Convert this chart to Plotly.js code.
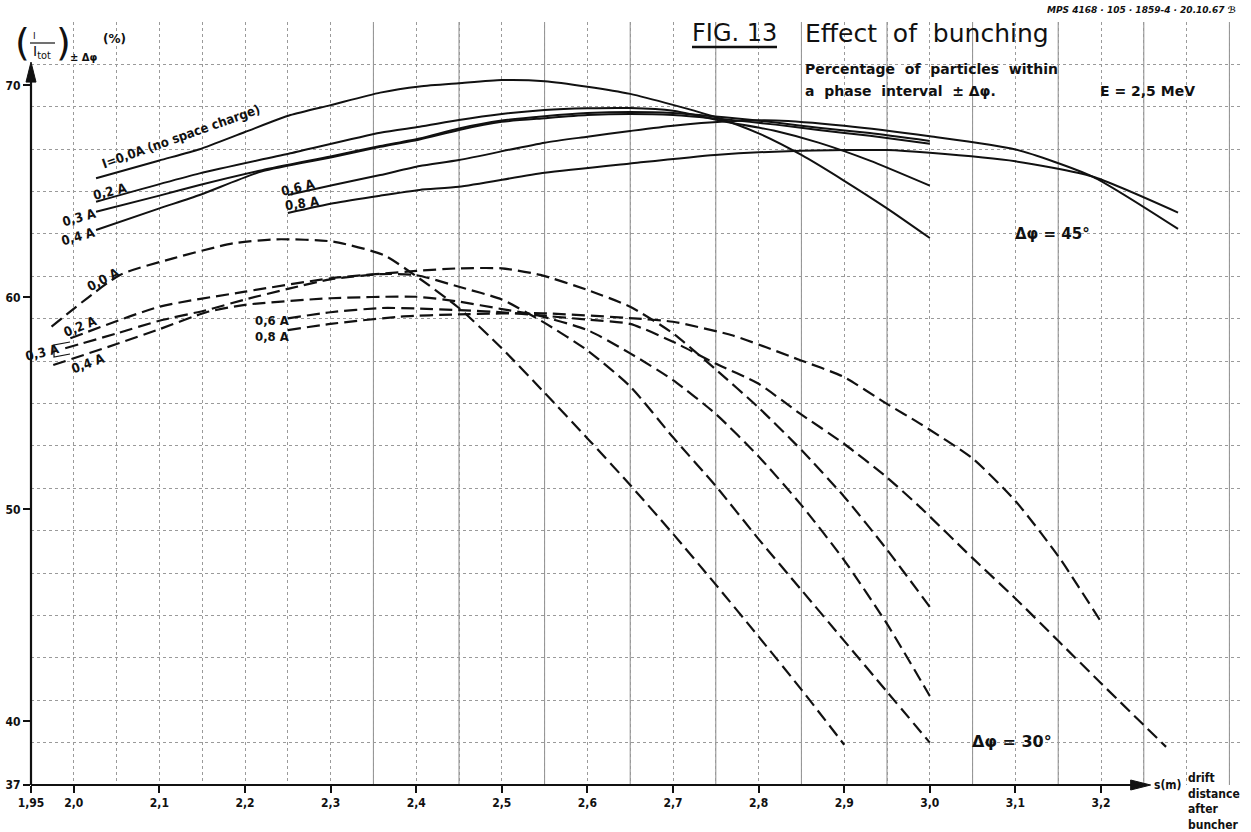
<!DOCTYPE html>
<html>
<head>
<meta charset="utf-8">
<script src="https://cdn.plot.ly/plotly-3.0.1.min.js"></script>
<style>
html,body{margin:0;padding:0;background:#fff;}
#chart{width:1251px;height:832px;}
</style>
</head>
<body>
<div id="chart"></div>
<script>
// ---------- tick labels ----------
const xTickVals = [1.95, 2.0, 2.1, 2.2, 2.3, 2.4, 2.5, 2.6, 2.7, 2.8, 2.9, 3.0, 3.1, 3.2];
const xTickText = ['1,95', '2,0', '2,1', '2,2', '2,3', '2,4', '2,5', '2,6', '2,7', '2,8', '2,9', '3,0', '3,1', '3,2'];
const yTickVals = [37, 40, 50, 60, 70];
const yTickText = ['37', '40', '50', '60', '70'];

// ---------- Δφ = 45° (solid) ----------
const s00X = [2.026, 2.10, 2.147, 2.20, 2.253, 2.30, 2.358, 2.404, 2.45, 2.50, 2.55, 2.60, 2.65, 2.70, 2.75, 2.80, 2.85, 2.90, 2.95, 3.00];
const s00Y = [65.62, 66.46, 66.99, 67.8, 68.6, 69.07, 69.66, 69.95, 70.1, 70.25, 70.2, 69.94, 69.6, 69.08, 68.5, 67.74, 66.72, 65.5, 64.2, 62.8];

const s02X = [2.026, 2.147, 2.253, 2.358, 2.404, 2.45, 2.50, 2.55, 2.60, 2.65, 2.70, 2.76, 2.82, 2.87, 2.93, 3.00];
const s02Y = [64.51, 65.85, 66.8, 67.77, 68.05, 68.37, 68.65, 68.84, 68.92, 68.93, 68.8, 68.3, 67.85, 67.3, 66.45, 65.27];

const s03X = [2.026, 2.10, 2.147, 2.22, 2.30, 2.358, 2.404, 2.45, 2.50, 2.55, 2.60, 2.65, 2.70, 2.76, 2.82, 2.87, 2.93, 3.00];
const s03Y = [64.04, 64.8, 65.3, 66.0, 66.65, 67.14, 67.5, 67.97, 68.34, 68.55, 68.7, 68.75, 68.7, 68.5, 68.25, 68.0, 67.75, 67.38];

const s04X = [2.026, 2.10, 2.147, 2.22, 2.30, 2.358, 2.404, 2.45, 2.50, 2.55, 2.60, 2.65, 2.70, 2.76, 2.82, 2.87, 2.93, 3.00];
const s04Y = [63.18, 64.2, 64.83, 65.95, 66.6, 67.1, 67.45, 67.9, 68.28, 68.45, 68.6, 68.65, 68.6, 68.4, 68.15, 67.9, 67.62, 67.25];

const s06X = [2.25, 2.303, 2.358, 2.404, 2.45, 2.55, 2.60, 2.65, 2.70, 2.76, 2.82, 2.90, 3.00, 3.10, 3.19, 3.29];
const s06Y = [64.83, 65.3, 65.77, 66.2, 66.48, 67.3, 67.58, 67.85, 68.1, 68.3, 68.35, 68.1, 67.6, 66.98, 65.7, 63.23];

const s08X = [2.25, 2.303, 2.358, 2.404, 2.45, 2.55, 2.65, 2.749, 2.85, 2.95, 3.00, 3.10, 3.19, 3.29];
const s08Y = [63.98, 64.44, 64.8, 65.07, 65.22, 65.88, 66.32, 66.72, 66.92, 66.95, 66.82, 66.42, 65.7, 64.0];

// ---------- Δφ = 30° (dashed) ----------
const d00X = [1.974, 2.054, 2.116, 2.186, 2.237, 2.303, 2.362, 2.40, 2.45, 2.50, 2.55, 2.60, 2.65, 2.70, 2.75, 2.80, 2.85, 2.90];
const d00Y = [58.62, 61.06, 61.84, 62.55, 62.74, 62.63, 62.0, 61.0, 59.5, 57.6, 55.5, 53.35, 51.15, 48.85, 46.45, 44.0, 41.5, 38.9];

const d02X = [1.996, 2.10, 2.20, 2.30, 2.40, 2.45, 2.50, 2.545, 2.60, 2.65, 2.70, 2.75, 2.80, 2.85, 2.90, 2.95, 3.00];
const d02Y = [58.07, 59.56, 60.27, 60.9, 61.25, 61.37, 61.37, 61.06, 60.35, 59.56, 58.3, 56.6, 54.8, 52.8, 50.6, 48.1, 45.4];

const d03X = [1.99, 2.05, 2.10, 2.155, 2.20, 2.25, 2.30, 2.36, 2.40, 2.45, 2.50, 2.55, 2.60, 2.65, 2.70, 2.75, 2.80, 2.85, 2.90, 2.95, 3.00];
const d03Y = [57.6, 58.3, 58.9, 59.4, 59.9, 60.4, 60.85, 61.1, 61.05, 60.5, 59.9, 58.8, 57.5, 55.8, 53.4, 51.1, 48.6, 46.2, 43.8, 41.4, 39.0];

const d04X = [1.976, 2.05, 2.10, 2.155, 2.20, 2.30, 2.40, 2.45, 2.50, 2.54, 2.60, 2.65, 2.70, 2.75, 2.80, 2.85, 2.90, 2.95, 3.00];
const d04Y = [56.81, 57.8, 58.5, 59.3, 59.65, 59.96, 60.03, 59.8, 59.45, 59.17, 58.46, 57.36, 56.1, 54.5, 52.5, 50.2, 47.6, 44.6, 41.2];

const d06X = [2.25, 2.30, 2.36, 2.40, 2.45, 2.50, 2.54, 2.60, 2.65, 2.704, 2.749, 2.799, 2.848, 2.899, 2.949, 2.988, 3.05, 3.10, 3.15, 3.20, 3.276];
const d06Y = [59.01, 59.3, 59.5, 59.48, 59.4, 59.3, 59.17, 58.95, 58.75, 57.83, 56.89, 55.95, 54.53, 53.12, 51.54, 50.13, 47.7, 45.8, 43.8, 41.8, 38.8];

const d08X = [2.25, 2.30, 2.381, 2.449, 2.548, 2.654, 2.70, 2.77, 2.848, 2.899, 2.949, 2.988, 3.05, 3.10, 3.15, 3.20];
const d08Y = [58.46, 58.75, 59.09, 59.2, 59.25, 59.01, 58.85, 58.2, 57.05, 56.26, 55.0, 54.06, 52.4, 50.4, 47.8, 44.7];

// graph-paper heavier lines
const solidGridX = [2.35, 2.45, 2.55, 2.65, 2.75, 2.85, 2.95, 3.05, 3.15, 3.25, 3.35];

// ---------- layout helpers ----------
const L = 31, T = 22, W = 1209, H = 763;
const XPU = 856, YPU = 21.2;               // pixels per unit
const px = p => (p - L) / W;
const py = p => (T + H - p) / H;
const FONT = 'DejaVu Sans, Liberation Sans, sans-serif';
const CFONT = 'DejaVu Sans Condensed, DejaVu Sans, sans-serif';
const INK = '#111111';

function solid(x, y, name) {
  return {x: x, y: y, name: name, type: 'scatter', mode: 'lines',
    line: {color: INK, width: 2, shape: 'spline', smoothing: 0.6}, hoverinfo: 'skip'};
}
function dashed(x, y, name) {
  return {x: x, y: y, name: name, type: 'scatter', mode: 'lines',
    line: {color: INK, width: 2.2, dash: '13px,6px', shape: 'spline', smoothing: 0.6}, hoverinfo: 'skip'};
}

const traces = [
  solid(s00X, s00Y, '45° 0.0 A'), solid(s02X, s02Y, '45° 0.2 A'), solid(s03X, s03Y, '45° 0.3 A'),
  solid(s04X, s04Y, '45° 0.4 A'), solid(s06X, s06Y, '45° 0.6 A'), solid(s08X, s08Y, '45° 0.8 A'),
  dashed(d00X, d00Y, '30° 0.0 A'), dashed(d02X, d02Y, '30° 0.2 A'), dashed(d03X, d03Y, '30° 0.3 A'),
  dashed(d04X, d04Y, '30° 0.4 A'), dashed(d06X, d06Y, '30° 0.6 A'), dashed(d08X, d08Y, '30° 0.8 A')
];

function lab(text, xp, yp, opts) {
  opts = opts || {};
  return Object.assign({text: text, xref: 'paper', yref: 'paper', x: px(xp), y: py(yp),
    xanchor: opts.xanchor || 'center', yanchor: opts.yanchor || 'middle', showarrow: false,
    textangle: opts.angle || 0,
    font: {family: opts.family || CFONT, size: opts.size || 13, color: INK,
           weight: opts.weight || 'normal'}}, opts.extra || {});
}

const annotations = [
  // axis titles
  lab('(', 22, 42, {size: 38, family: FONT}),
  lab('I', 34, 36, {size: 9, family: FONT}),
  lab('I<sub>tot</sub>', 42, 52, {size: 14, family: FONT}),
  lab(')', 63, 42, {size: 38, family: FONT}),
  lab('± Δφ', 84, 58, {size: 10, family: FONT, weight: 'bold'}),
  lab('(%)', 114, 39, {size: 12, family: FONT, weight: 'bold'}),
  lab('s(m)', 1152, 785, {xanchor: 'left', size: 12, weight: 'bold'}),
  lab('drift<br>distance<br>after<br>buncher', 1186, 801, {xanchor: 'left', size: 12, weight: 'bold',
     extra: {align: 'left'}}),
  // title block
  lab('<i>MPS 4168 · 105 · 1859-4 · 20.10.67 ℬ</i>', 1238, 10, {xanchor: 'right', size: 9, family: FONT, weight: 'bold'}),
  lab('FIG. 13', 734, 33, {size: 24, family: FONT}),
  lab('Effect  of  bunching', 803, 33, {xanchor: 'left', size: 25, family: FONT}),
  lab('Percentage  of  particles  within', 803, 69, {xanchor: 'left', size: 14, family: FONT, weight: 'bold'}),
  lab('a  phase  interval  ± Δφ.', 803, 91, {xanchor: 'left', size: 14, family: FONT, weight: 'bold'}),
  lab('E = 2,5 MeV', 1098, 91, {xanchor: 'left', size: 14, family: FONT, weight: 'bold'}),
  // solid curve labels
  lab('I=0,0A (no space charge)', 181, 137, {angle: -19.5, size: 13, weight: 'bold'}),
  lab('0,2 A', 110, 192, {angle: -14, weight: 'bold'}),
  lab('0,3 A', 79, 217, {angle: -16, weight: 'bold'}),
  lab('0,4 A', 78, 236, {angle: -16, weight: 'bold'}),
  lab('0,6 A', 298, 188, {angle: -14, weight: 'bold'}),
  lab('0,8 A', 302, 203, {angle: -8, weight: 'bold'}),
  lab('Δφ = 45°', 1052, 234, {size: 15, family: FONT, weight: 'bold'}),
  // dashed curve labels
  lab('0,0 A', 103, 279, {angle: -28, weight: 'bold'}),
  lab('0,2 A', 80, 326, {angle: -22, weight: 'bold'}),
  lab('0,3 A', 42, 352, {angle: -14, weight: 'bold'}),
  lab('0,4 A', 88, 364, {angle: -20, weight: 'bold'}),
  lab('0,6 A', 272, 320, {weight: 'bold'}),
  lab('0,8 A', 272, 336, {weight: 'bold'}),
  lab('Δφ = 30°', 1012, 741, {size: 16, family: FONT, weight: 'bold'})
];

// axes drawn as arrows
const xTip = 3.258, yTip = 71.1;
const xTipPx = L + (xTip - 1.95) * XPU;
const yTipPx = T + H - (yTip - 37) * YPU;
const axisY0 = T + H;
const shapes = solidGridX.map(v => ({type: 'line', xref: 'x', yref: 'paper', x0: v, x1: v, y0: 0, y1: 1,
  line: {color: '#8a8a8a', width: 1}, layer: 'below'}));
shapes.push({type: 'line', xref: 'paper', yref: 'paper', x0: 0, x1: px(xTipPx - 14), y0: 0, y1: 0,
  line: {color: INK, width: 2.2}});
shapes.push({type: 'line', xref: 'paper', yref: 'paper', x0: 0, x1: 0, y0: 0, y1: py(yTipPx + 14),
  line: {color: INK, width: 2.2}});
shapes.push({type: 'path', xref: 'paper', yref: 'paper', fillcolor: INK, line: {color: INK, width: 1},
  path: 'M ' + px(xTipPx) + ' ' + py(axisY0) + ' L ' + px(xTipPx - 20) + ' ' + py(axisY0 - 5) +
        ' L ' + px(xTipPx - 20) + ' ' + py(axisY0 + 5) + ' Z'});
shapes.push({type: 'path', xref: 'paper', yref: 'paper', fillcolor: INK, line: {color: INK, width: 1},
  path: 'M ' + px(L) + ' ' + py(yTipPx) + ' L ' + px(L - 5) + ' ' + py(yTipPx + 20) +
        ' L ' + px(L + 5) + ' ' + py(yTipPx + 20) + ' Z'});
// underline of FIG. 13, fraction bar of the ordinate title, bracket of "0,3 A"
shapes.push({type: 'line', xref: 'paper', yref: 'paper', x0: px(692), x1: px(777), y0: py(47), y1: py(47),
  line: {color: INK, width: 2.5}});
shapes.push({type: 'line', xref: 'paper', yref: 'paper', x0: px(30), x1: px(55), y0: py(43), y1: py(43),
  line: {color: INK, width: 1.2}});
shapes.push({type: 'path', xref: 'paper', yref: 'paper',
  path: 'M ' + px(70) + ' ' + py(342) + ' L ' + px(54) + ' ' + py(345) + ' L ' + px(54) + ' ' + py(357) + ' L ' + px(70) + ' ' + py(354),
  line: {color: INK, width: 1.2}});

const gridStyle = {color: '#9a9a9a', dash: 'dot', width: 1};

const layout = {
  width: 1251, height: 832,
  margin: {l: L, r: 1251 - L - W, t: T, b: 832 - T - H, pad: 0},
  paper_bgcolor: '#ffffff', plot_bgcolor: '#ffffff',
  showlegend: false,
  xaxis: {
    range: [1.95, 1.95 + W / XPU], fixedrange: true,
    tickmode: 'array', tickvals: xTickVals, ticktext: xTickText,
    ticks: 'outside', ticklen: 7, tickwidth: 2, tickcolor: INK,
    tickfont: {family: CFONT, size: 12, color: INK, weight: 'bold'},
    showline: false, zeroline: false,
    showgrid: true, gridcolor: gridStyle.color, griddash: gridStyle.dash, gridwidth: 1,
    minor: {tickmode: 'linear', tick0: 1.95, dtick: 0.05, ticks: '', showgrid: true,
            gridcolor: gridStyle.color, griddash: gridStyle.dash, gridwidth: 1}
  },
  yaxis: {
    range: [37, 37 + H / YPU], fixedrange: true,
    tickmode: 'array', tickvals: yTickVals, ticktext: yTickText,
    ticks: 'outside', ticklen: 7, tickwidth: 2, tickcolor: INK,
    tickfont: {family: CFONT, size: 12, color: INK, weight: 'bold'},
    showline: false, zeroline: false, showgrid: false,
    minor: {tickmode: 'linear', tick0: 37, dtick: 2, ticks: '', showgrid: true,
            gridcolor: gridStyle.color, griddash: gridStyle.dash, gridwidth: 1}
  },
  annotations: annotations,
  shapes: shapes
};

Plotly.newPlot('chart', traces, layout, {staticPlot: true, displayModeBar: false});
</script>
</body>
</html>
